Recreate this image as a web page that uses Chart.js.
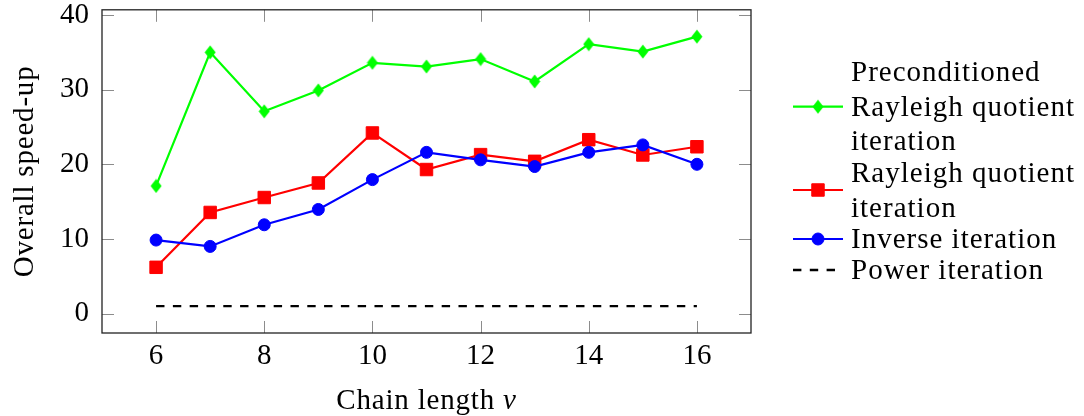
<!DOCTYPE html>
<html><head><meta charset="utf-8">
<script src="https://cdn.jsdelivr.net/npm/chart.js@4.4.0/dist/chart.umd.min.js"></script>
<style>html,body{margin:0;padding:0;background:#fff;overflow:hidden}#wrap{width:1084px;height:416px}</style>
</head><body><div id="wrap"><canvas id="c" width="1084" height="416"></canvas></div>
<script>
// ---- data ----
const chainLength = [6, 7, 8, 9, 10, 11, 12, 13, 14, 15, 16];
const precondRQI  = [17.1, 35.0, 27.1, 29.9, 33.6, 33.1, 34.1, 31.1, 36.1, 35.1, 37.1];
const rqi         = [6.2, 13.55, 15.55, 17.5, 24.2, 19.3, 21.3, 20.4, 23.3, 21.25, 22.35];
const inverseIt   = [9.85, 9.0, 11.9, 13.95, 17.95, 21.6, 20.6, 19.7, 21.6, 22.6, 20.0];
const powerIt     = [1, 1, 1, 1, 1, 1, 1, 1, 1, 1, 1];
const xTicks = [6, 8, 10, 12, 14, 16];
const yTicks = [0, 10, 20, 30, 40];
const xRange = [5, 17];
const yRange = [-2.6, 40.7];
const seriesLabels = [
  ["Preconditioned", "Rayleigh quotient", "iteration"],
  ["Rayleigh quotient", "iteration"],
  ["Inverse iteration"],
  ["Power iteration"]
];
const xTitle = ["Chain length ", "\u03bd"];
const yTitle = "Overall speed-up";

// ---- styling ----
const FONT = '"Liberation Serif", "Times New Roman", serif';
const FS = 29;
const GREEN = '#00ff00', RED = '#ff0000', BLUE = '#0000ff', BLACK = '#000000';

function diamond(color) {
  const c = document.createElement('canvas');
  c.width = 12; c.height = 15;
  const g = c.getContext('2d');
  g.fillStyle = color;
  g.beginPath();
  g.moveTo(6, 0.5); g.lineTo(11.5, 7.5); g.lineTo(6, 14.5); g.lineTo(0.5, 7.5);
  g.closePath(); g.fill();
  return c;
}
const diamondImg = diamond(GREEN);

const pts = ys => chainLength.map((x, i) => ({x: x, y: ys[i]}));

const datasets = [
  {label: seriesLabels[0].join(' '), data: pts(precondRQI), borderColor: GREEN, backgroundColor: GREEN,
   borderWidth: 2.2, pointStyle: diamondImg, pointRadius: 7, order: 4},
  {label: seriesLabels[1].join(' '), data: pts(rqi), borderColor: RED, backgroundColor: RED,
   borderWidth: 2.2, pointStyle: 'rect', pointRadius: 8.8, pointBorderWidth: 1, order: 3},
  {label: seriesLabels[2][0], data: pts(inverseIt), borderColor: BLUE, backgroundColor: BLUE,
   borderWidth: 2.2, pointStyle: 'circle', pointRadius: 6, pointBorderWidth: 1, order: 2},
  {label: seriesLabels[3][0], data: pts(powerIt), borderColor: BLACK, backgroundColor: BLACK,
   borderWidth: 2.3, borderDash: [8.4, 8.4], pointRadius: 0, order: 1}
];

const frame = {
  id: 'frame',
  beforeDatasetsDraw(chart) {
    const {ctx, chartArea: a, scales: {x, y}} = chart;
    ctx.save();
    ctx.strokeStyle = '#8c8c8c';
    ctx.lineWidth = 1;
    const TL = 12;
    xTicks.forEach(v => {
      const px = Math.round(x.getPixelForValue(v)) + 0.5;
      ctx.beginPath();
      ctx.moveTo(px, a.bottom); ctx.lineTo(px, a.bottom - TL);
      ctx.moveTo(px, a.top); ctx.lineTo(px, a.top + TL);
      ctx.stroke();
    });
    yTicks.forEach(v => {
      const py = Math.round(y.getPixelForValue(v)) + 0.5;
      ctx.beginPath();
      ctx.moveTo(a.left, py); ctx.lineTo(a.left + TL, py);
      ctx.moveTo(a.right, py); ctx.lineTo(a.right - TL, py);
      ctx.stroke();
    });
    ctx.strokeStyle = '#222';
    ctx.lineWidth = 1.3;
    ctx.strokeRect(a.left, a.top, a.right - a.left, a.bottom - a.top);
    ctx.restore();
  },
  afterDraw(chart) {
    const {ctx, chartArea: a} = chart;
    ctx.save();
    ctx.fillStyle = '#000';
    ctx.textBaseline = 'alphabetic';
    // x title
    ctx.letterSpacing = '0.8px';
    ctx.font = FS + 'px ' + FONT;
    const w1 = ctx.measureText(xTitle[0]).width;
    ctx.font = 'italic ' + FS + 'px ' + FONT;
    const w2 = ctx.measureText(xTitle[1]).width;
    const cx = (a.left + a.right) / 2;
    let sx = cx - (w1 + w2) / 2;
    ctx.textAlign = 'left';
    ctx.font = FS + 'px ' + FONT;
    ctx.fillText(xTitle[0], sx, 409);
    ctx.font = 'italic ' + FS + 'px ' + FONT;
    ctx.fillText(xTitle[1], sx + w1, 409);
    // y title
    ctx.font = FS + 'px ' + FONT;
    ctx.save();
    ctx.translate(33, (a.top + a.bottom) / 2);
    ctx.rotate(-Math.PI / 2);
    ctx.textAlign = 'center';
    ctx.fillText(yTitle, 0, 0);
    ctx.restore();
    // legend
    ctx.letterSpacing = '1px';
    ctx.textAlign = 'left';
    const textX = 851;
    const baselines = [[80.7, 116, 150], [181.7, 216.7], [248.3], [279]];
    const sampleY = [106.7, 190, 239, 270];
    chart.data.datasets.forEach((ds, i) => {
      ctx.fillStyle = '#000';
      seriesLabels[i].forEach((t, j) => ctx.fillText(t, textX, baselines[i][j]));
      const sy = sampleY[i];
      ctx.save();
      ctx.strokeStyle = ds.borderColor;
      ctx.lineWidth = ds.borderWidth;
      ctx.setLineDash(ds.borderDash || []);
      ctx.beginPath();
      ctx.moveTo(793, sy); ctx.lineTo(843, sy);
      ctx.stroke();
      ctx.setLineDash([]);
      if (ds.pointRadius > 0) {
        ctx.fillStyle = ds.backgroundColor;
        ctx.strokeStyle = ds.borderColor;
        ctx.lineWidth = ds.pointBorderWidth || 1;
        Chart.helpers.drawPoint(ctx, {pointStyle: ds.pointStyle, radius: ds.pointRadius,
          rotation: 0, borderWidth: ds.pointBorderWidth || 0}, 818, sy);
      }
      ctx.restore();
    });
    ctx.restore();
  }
};

new Chart(document.getElementById('c'), {
  type: 'line',
  data: {datasets: datasets},
  options: {
    responsive: false,
    animation: false,
    devicePixelRatio: 1,
    layout: {padding: {left: 0, top: 8, right: 333, bottom: 0}},
    plugins: {legend: {display: false}, tooltip: {enabled: false}},
    elements: {line: {tension: 0}},
    scales: {
      x: {
        type: 'linear', min: xRange[0], max: xRange[1],
        afterBuildTicks: s => { s.ticks = xTicks.map(v => ({value: v})); },
        afterFit: s => { s.height = 83; s.paddingLeft = 0; s.paddingRight = 0; s.paddingTop = 0; s.paddingBottom = 0; },
        grid: {display: false, drawTicks: false},
        border: {display: false},
        ticks: {font: {family: FONT, size: FS}, color: '#000', padding: 6, maxRotation: 0, autoSkip: false}
      },
      y: {
        type: 'linear', min: yRange[0], max: yRange[1],
        afterBuildTicks: s => { s.ticks = yTicks.map(v => ({value: v})); },
        afterFit: s => { s.width = 102; s.paddingLeft = 0; s.paddingRight = 0; s.paddingTop = 0; s.paddingBottom = 0; },
        grid: {display: false, drawTicks: false},
        border: {display: false},
        ticks: {font: {family: FONT, size: FS}, color: '#000', padding: 13, autoSkip: false}
      }
    }
  },
  plugins: [frame]
});
</script>
</body></html>
